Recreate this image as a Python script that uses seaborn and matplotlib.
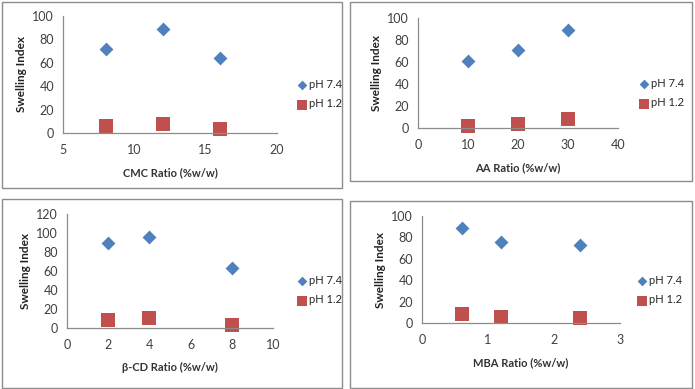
import numpy as np
import pandas as pd
import matplotlib.pyplot as plt
from matplotlib.patches import Rectangle
import seaborn as sns

sns.set_style("white")
plt.rcParams['font.family'] = ['Lato', 'DejaVu Sans']

# data
cmc_x = [8, 12, 16]
cmc_74 = [72, 89, 64]
cmc_12 = [6, 8, 3.5]

aa_x = [10, 20, 30]
aa_74 = [61, 71, 89]
aa_12 = [2, 4, 8]

cd_x = [2, 4, 8]
cd_74 = [89, 96, 63]
cd_12 = [8, 11, 3]

mba_x = [0.6, 1.2, 2.4]
mba_74 = [89, 76, 73]
mba_12 = [8, 6, 5]

series_names = ["pH 7.4", "pH 1.2"]
blue = "#4F81BD"
red = "#C0504D"

W, H = 695, 389
fig = plt.figure(figsize=(W / 100, H / 100), dpi=100)

def px(x0, y0, x1, y1):
    # pixel box (top-left origin) -> figure fraction rect
    return [x0 / W, 1 - y1 / H, (x1 - x0) / W, (y1 - y0) / H]

panels = [
    dict(x=cmc_x, a=cmc_74, b=cmc_12, xlabel="CMC Ratio (%w/w)",
         xlim=(5, 20), xt=[5, 10, 15, 20], ylim=(0, 100), yt=range(0, 101, 20),
         box=(2, 2, 342, 188), ax=(63, 16, 277, 133), leg=(298, 94)),
    dict(x=aa_x, a=aa_74, b=aa_12, xlabel="AA Ratio (%w/w)",
         xlim=(0, 40), xt=[0, 10, 20, 30, 40], ylim=(0, 100), yt=range(0, 101, 20),
         box=(350, 2, 692, 181), ax=(418, 18, 618, 128), leg=(640, 93)),
    dict(x=cd_x, a=cd_74, b=cd_12, xlabel="β-CD Ratio (%w/w)",
         xlim=(0, 10), xt=[0, 2, 4, 6, 8, 10], ylim=(0, 120), yt=range(0, 121, 20),
         box=(2, 199, 342, 388), ax=(67, 214, 273, 328), leg=(298, 290)),
    dict(x=mba_x, a=mba_74, b=mba_12, xlabel="MBA Ratio (%w/w)",
         xlim=(0, 3), xt=[0, 1, 2, 3], ylim=(0, 100), yt=range(0, 101, 20),
         box=(350, 201, 692, 388), ax=(422, 216, 620, 323), leg=(638, 290)),
]

for p in panels:
    bx = p["box"]
    fig.patches.append(Rectangle((bx[0] / W, 1 - bx[3] / H), (bx[2] - bx[0]) / W,
                                 (bx[3] - bx[1]) / H, transform=fig.transFigure,
                                 fill=False, edgecolor="#8c8c8c", linewidth=1.0))
    ax = fig.add_axes(px(*p["ax"]))
    df = pd.DataFrame({"x": p["x"], "a": p["a"], "b": p["b"]})
    sns.scatterplot(data=df, x="x", y="a", ax=ax, marker="D", s=50, color=blue,
                    edgecolor=blue, linewidth=0, label=series_names[0], clip_on=False)
    sns.scatterplot(data=df, x="x", y="b", ax=ax, marker="s", s=100, color=red,
                    edgecolor=red, linewidth=0, label=series_names[1], clip_on=False)
    ax.set_xlim(*p["xlim"])
    ax.set_ylim(*p["ylim"])
    ax.set_xticks(p["xt"])
    ax.set_yticks(list(p["yt"]))
    ax.set_xlabel(p["xlabel"], fontsize=8, fontweight="bold", color="#333333", labelpad=8)
    ax.set_ylabel("Swelling Index", fontsize=8.5, fontweight="bold", color="#222222", labelpad=4)
    ax.tick_params(axis="both", labelsize=9, colors="#404040", length=3,
                   direction="out", width=0.8)
    ax.tick_params(axis="x", length=0, pad=8)
    for s in ["top", "right"]:
        ax.spines[s].set_visible(False)
    for s in ["left", "bottom"]:
        ax.spines[s].set_color("#8c8c8c")
        ax.spines[s].set_linewidth(0.9)
    lx, ly = p["leg"]
    ax.legend(loc="center left", bbox_to_anchor=(lx / W, 1 - ly / H),
              bbox_transform=fig.transFigure, frameon=False, fontsize=8,
              handlelength=0.8, handletextpad=0.2, labelspacing=0.8,
              markerscale=0.7, borderaxespad=0, borderpad=0)

fig.savefig("out.png", dpi=100)
